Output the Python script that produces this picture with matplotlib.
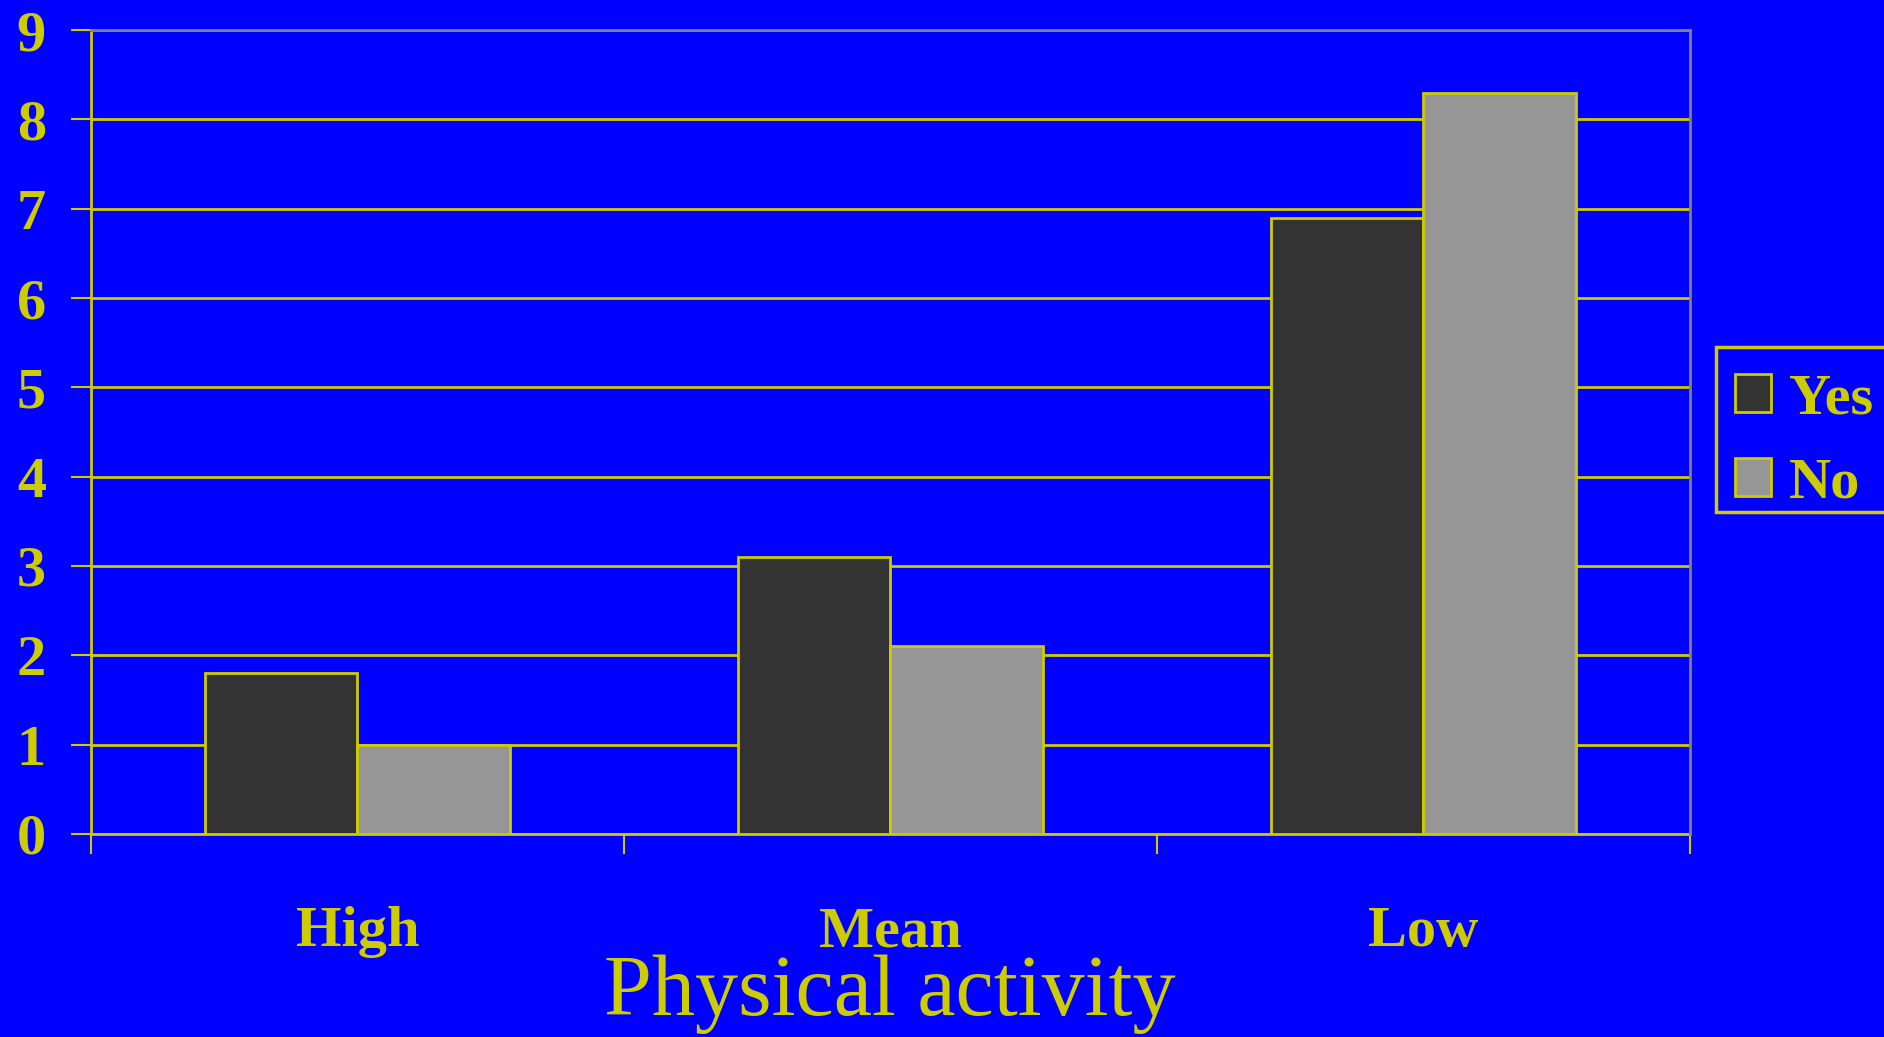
import numpy as np
import matplotlib.pyplot as plt
from matplotlib.patches import Patch, Rectangle

# ----------------------------------------------------------------------
# 数据
# ----------------------------------------------------------------------
categories = ['High', 'Mean', 'Low']
yes_values = [1.8, 3.1, 6.9]
no_values = [1.0, 2.1, 8.3]
series_names = ['Yes', 'No']
y_ticks = list(range(0, 10))

# 颜色
BG = '#0000FF'
YELLOW = '#CCCC00'
DARK = '#333333'
GRAY = '#969696'
BORDER = '#808080'

plt.rcParams['font.family'] = ['Liberation Serif', 'DejaVu Serif']

fig = plt.figure(figsize=(18.84, 10.37), dpi=100, facecolor=BG)
ax = fig.add_axes([0.0483, 0.1958, 0.897 - 0.0483, 0.971 - 0.1958])
ax.set_facecolor(BG)

x = np.arange(len(categories))
w = 0.286
ax.bar(x - w / 2, yes_values, w, color=DARK, edgecolor=YELLOW, linewidth=2, zorder=3)
ax.bar(x + w / 2, no_values, w, color=GRAY, edgecolor=YELLOW, linewidth=2, zorder=3)

ax.set_xlim(-0.5, len(categories) - 0.5)
ax.set_ylim(0, 9)

# 网格线
ax.set_yticks(y_ticks)
ax.set_yticklabels([str(v) for v in y_ticks], fontweight='bold', fontsize=42, color=YELLOW)
ax.yaxis.grid(True, color=YELLOW, linewidth=2, zorder=1)
ax.set_axisbelow(True)
ax.tick_params(axis='y', direction='out', length=14.4, width=1.5, color=YELLOW, pad=18)

# x 轴：类别标签在主刻度，分隔线在次刻度
ax.set_xticks(x)
ax.set_xticklabels(categories, fontweight='bold', fontsize=42, color=YELLOW)
ax.tick_params(axis='x', which='major', length=0, pad=52)
ax.set_xticks(np.arange(-0.5, len(categories), 1.0), minor=True)
ax.tick_params(axis='x', which='minor', direction='out', length=14.4, width=1.5, color=YELLOW)

for side in ['left', 'bottom']:
    ax.spines[side].set_color(YELLOW)
    ax.spines[side].set_linewidth(2)
for side in ['top', 'right']:
    ax.spines[side].set_color(BORDER)
    ax.spines[side].set_linewidth(2)
    ax.spines[side].set_zorder(4)

fig.text(0.4724, 0.0212, 'Physical activity', fontsize=62, color=YELLOW,
         ha='center', va='baseline')

# 图例边框（单独绘制，右侧超出画布）
fig.patches.append(Rectangle((0.911, 0.5063), 0.2, 0.1591, transform=fig.transFigure,
                             facecolor=BG, edgecolor=YELLOW, linewidth=2.5, zorder=0))

handles = [Patch(facecolor=DARK, edgecolor=YELLOW, linewidth=2),
           Patch(facecolor=GRAY, edgecolor=YELLOW, linewidth=2)]
leg = fig.legend(handles, series_names, loc='upper left',
                 bbox_to_anchor=(0.9123, 0.6557), frameon=False,
                 prop={'weight': 'bold', 'size': 42},
                 handlelength=0.62, handleheight=0.62, handletextpad=0.3,
                 labelspacing=0.55, borderpad=0.28, borderaxespad=0)
for t in leg.get_texts():
    t.set_color(YELLOW)

fig.savefig('out.png', dpi=100, facecolor=BG)
